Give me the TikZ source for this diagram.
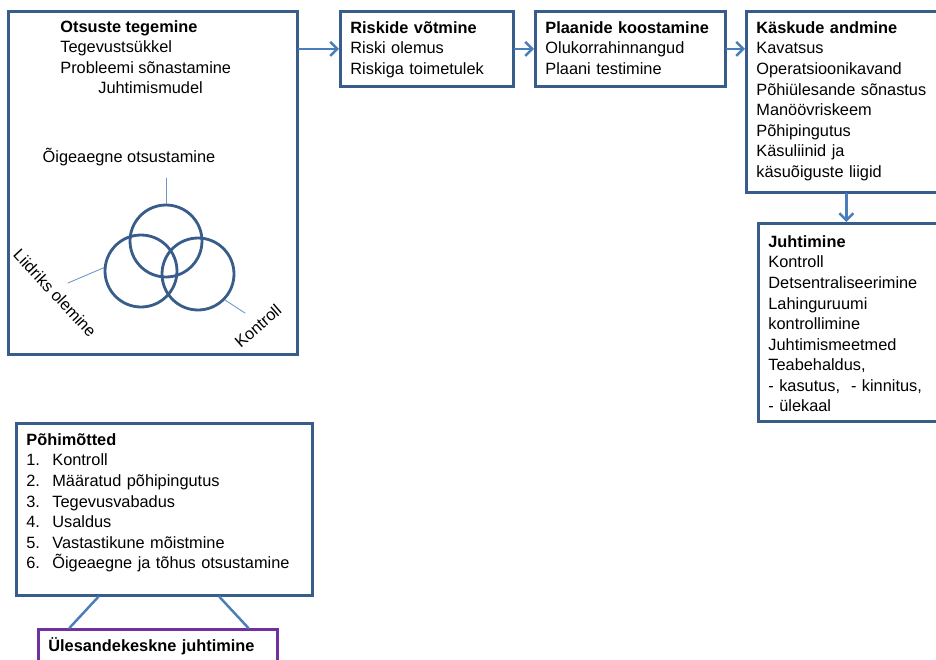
\documentclass[tikz,border=0pt]{standalone}
\usepackage{fontspec}
\setmainfont{Liberation Sans}
\usepackage{tikz}
\usetikzlibrary{arrows.meta}
\definecolor{boxblue}{RGB}{56,93,138}
\definecolor{arrowblue}{RGB}{74,126,187}
\definecolor{thinblue}{RGB}{110,150,205}
\definecolor{boxpurple}{RGB}{112,48,160}

\begin{document}
\begin{tikzpicture}
		[x=0.02cm,y=-0.02cm,line cap=round,
		font=\fontsize{9.3}{11.7}\selectfont,
		%Styles
		main box/.style={draw=boxblue,line width=1.6pt,inner sep=0.2cm,
			anchor=north west,align=left,text height=0.24cm},
		flow arrow/.style={-{Straight Barb[length=4pt,width=8pt]},draw=arrowblue,line width=1.4pt},
		ring/.style={circle,draw=boxblue,line width=1.6pt,minimum size=1.44cm,inner sep=0pt},
		label line/.style={draw=thinblue,line width=0.5pt},
		join line/.style={draw=arrowblue,line width=1.4pt},
		plain text/.style={inner sep=0pt,align=left}
		]
		\useasboundingbox (0,0) rectangle (936,659);
		
		%The boxes
		\node[main box,minimum width=5.78cm,minimum height=6.86cm] (otsus) at (7,10) {};
		\node[main box,text width=3.06cm,text depth=0.86cm] (riski) at (339,10)
			{\textbf{Riskide võtmine}\\Riski olemus\\Riskiga toimetulek};
		\node[main box,text width=3.4cm,text depth=0.86cm] (plaan) at (534,10)
			{\textbf{Plaanide koostamine}\\Olukorrahinnangud\\Plaani testimine};
		\node[main box,text width=3.6cm,text depth=2.98cm] (kask) at (745,10)
			{\textbf{Käskude andmine}\\Kavatsus\\Operatsioonikavand\\Põhiülesande sõnastus\\
			Manöövriskeem\\Põhipingutus\\Käsuliinid ja\\käsuõiguste liigid};
		\node[main box,text width=3.36cm,text depth=3.24cm,inner ysep=0.24cm] (juht) at (757,222)
			{\textbf{Juhtimine}\\Kontroll\\Detsentraliseerimine\\Lahinguruumi\\kontrollimine\\
			Juhtimismeetmed\\Teabehaldus,\\- kasutus,\ \ - kinnitus,\\- ülekaal};
		\node[main box,text width=5.52cm,text depth=2.8cm] (pohi) at (15,422)
			{\textbf{Põhimõtted}\\
			\makebox[0.52cm][l]{1.}Kontroll\\
			\makebox[0.52cm][l]{2.}Määratud põhipingutus\\
			\makebox[0.52cm][l]{3.}Tegevusvabadus\\
			\makebox[0.52cm][l]{4.}Usaldus\\
			\makebox[0.52cm][l]{5.}Vastastikune mõistmine\\
			\makebox[0.52cm][l]{6.}Õigeaegne ja tõhus otsustamine};
		\node[main box,draw=boxpurple,text width=4.38cm,text depth=0.5cm] (ules) at (37,628)
			{\textbf{Ülesandekeskne juhtimine}};
		
		%Text of the first box
		\node[plain text,anchor=north west] (otsuskiri) at (60,20)
			{\textbf{Otsuste tegemine}\\Tegevustsükkel\\Probleemi sõnastamine\\
			\hspace*{0.76cm}Juhtimismudel};
		
		%The three rings
		\node[ring] (ringtop) at (166,241) {};
		\node[ring] (ringleft) at (141,271) {};
		\node[ring] (ringright) at (198,274) {};
		
		\node (oige) at (129,157) {Õigeaegne otsustamine};
		\node[rotate=-47] (liider) at (55,293) {Liidriks olemine};
		\node[rotate=41] (kontroll) at (258,326) {Kontroll};
		\coordinate (oigeend) at (166,178);
		\coordinate (liiderend) at (68,283);
		\coordinate (kontrollend) at (245,313);
		
		\draw[label line] (ringtop.north) -- (oigeend);
		\draw[label line] (ringleft.175) -- (liiderend);
		\draw[label line] (ringright.-44) -- (kontrollend);
		
		%Arrows
		\draw[flow arrow] (otsus.east |- riski.west) -- (riski.west);
		\draw[flow arrow] (riski) -- (plaan);
		\draw[flow arrow] (plaan.east) -- (plaan.east -| kask.west);
		\draw[flow arrow] (kask.south) -- (kask.south |- juht.north);
		
		%Legs of the last box
		\draw[join line] ([xshift=-1.32cm]pohi.south) -- ([xshift=-1.77cm]ules.north);
		\draw[join line] ([xshift=1.1cm]pohi.south) -- ([xshift=1.81cm]ules.north);
	\end{tikzpicture}
\end{document}
